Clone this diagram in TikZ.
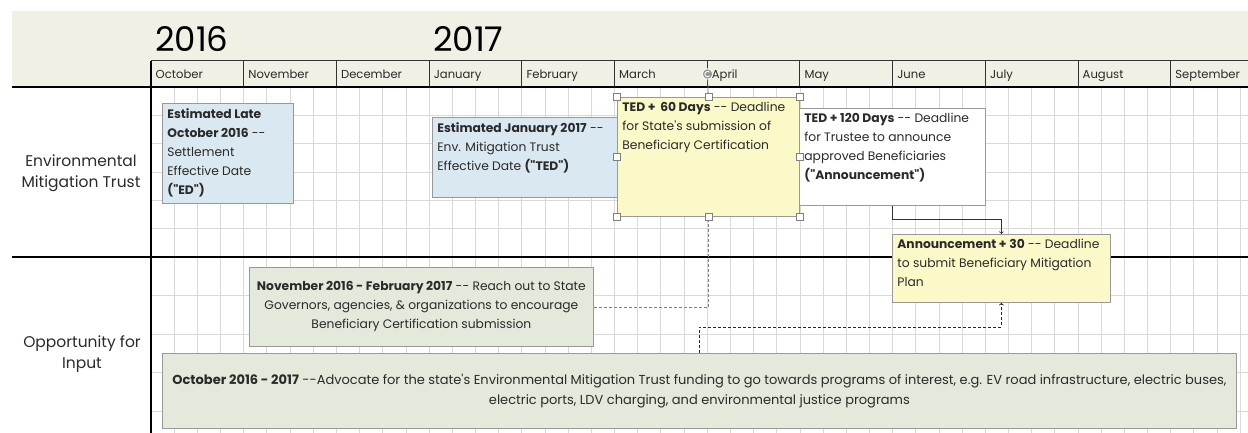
\documentclass[tikz,border=0pt]{standalone}
\usepackage{fontspec}
\setmainfont{Poppins}
\usetikzlibrary{positioning}

\definecolor{headbg}{HTML}{F0F0E5}
\definecolor{gridgray}{HTML}{D9D9D9}
\definecolor{bluefill}{HTML}{DAE8F1}
\definecolor{yellowfill}{HTML}{FCF9C9}
\definecolor{greenfill}{HTML}{E3EADB}
\definecolor{boxedge}{HTML}{999999}
\definecolor{inktext}{HTML}{2A2A2A}

\newcommand{\evtext}[3]{\parbox[t][#2][t]{#1}{\raggedright #3}}
\newcommand{\dq}{\textquotedbl}
\newcommand{\sq}{\textquotesingle}

\tikzset{
  gridline/.style={draw=gridgray, line width=0.8pt},
  heavyline/.style={draw=black, line width=1.6pt},
  monthline/.style={draw=black!80, line width=1pt},
  monthlabel/.style={anchor=base west, inner sep=0pt, text=inktext, font=\fontsize{11.6}{13}\selectfont},
  yearlabel/.style={anchor=base west, inner sep=0pt, font=\fontsize{34}{40}\selectfont},
  rowlabel/.style={align=center, inner sep=0pt, text=inktext, font=\fontsize{15.5}{21}\selectfont},
  evbox/.style={draw=boxedge, line width=0.8pt, inner xsep=5pt, inner ysep=5pt, anchor=north west, text=inktext, font=\fontsize{12.3}{19}\selectfont},
  bluebox/.style={evbox, fill=bluefill},
  yellowbox/.style={evbox, fill=yellowfill},
  whitebox/.style={evbox, fill=white},
  greenbox/.style={evbox, fill=greenfill, align=center},
  handlebox/.style={draw=gray, fill=white, line width=0.6pt, minimum size=7pt, inner sep=0pt},
  flowline/.style={draw=black!80, line width=0.8pt, ->},
  dashline/.style={line width=0.8pt, dash pattern=on 3pt off 2pt, ->}
}

\begin{document}
\begin{tikzpicture}[x=1pt,y=-1pt]
\useasboundingbox (0,0) rectangle (1248,433);

% header band
\fill[headbg] (12,11) rectangle (1248,87);
\node[yearlabel] (y2016) at (155,52) {2016};
\node[yearlabel] (y2017) at (433,52) {2017};

% grid
\foreach \i in {1,...,47}
  \draw[gridline] ({151+\i*23.175},87) -- ({151+\i*23.175},433);
\foreach \y in {115.3,143.7,172,200.3,228.7,295.5,334,372.5,411}
  \draw[gridline] (151,\y) -- (1248,\y);

% months
\draw[monthline] (151,61) -- (1248,61);
\foreach \m [count=\i from 0] in {October,November,December,January,February,March,April,May,June,July,August,September}{
  \draw[monthline] ({151+\i*92.7},61) -- ({151+\i*92.7},87);
  \node[monthlabel] (m\i) at ({155.5+\i*92.7},79) {\m};}

\draw[heavyline] (12,87) -- (1248,87);
\draw[heavyline] (12,257) -- (1248,257);
\draw[heavyline] (151,61) -- (151,433);

% rows
\node[rowlabel] (rowtrust) at (81,173) {Environmental\\Mitigation Trust};
\node[rowlabel] (rowinput) at (82,354) {Opportunity for\\Input};

% events
\node[bluebox] (ed) at (162,103) {\evtext{121pt}{90pt}{\textbf{Estimated Late}\\\textbf{October 2016} -{}-\\Settlement\\Effective Date\\\textbf{(\dq ED\dq)}}};
\node[bluebox] (ted) at (432,117) {\evtext{175pt}{70pt}{\textbf{Estimated January 2017} -{}-\\Env. Mitigation Trust\\Effective Date \textbf{(\dq TED\dq)}}};
\node[yellowbox] (ted60) at (617,97) {\evtext{172pt}{109pt}{\textbf{TED + \,60 Days} -{}- Deadline\\for State\sq s submission of\\Beneficiary Certification}};
\node[whitebox] (ted120) at (799,108) {\evtext{176pt}{87pt}{\textbf{TED + 120 Days} -{}- Deadline\\for Trustee to announce\\approved Beneficiaries\\\textbf{(\dq Announcement\dq)}}};
\node[yellowbox] (ann30) at (892,234) {\evtext{208pt}{58pt}{\textbf{Announcement + 30} -{}- Deadline\\to submit Beneficiary Mitigation\\Plan}};
\node[greenbox, minimum width=344pt, minimum height=79pt] (outreach) at (249,267) {\textbf{November 2016 - February 2017} -{}- Reach out to State\\Governors, agencies, \& organizations to encourage\\Beneficiary Certification submission};
\node[greenbox, minimum width=1074pt, minimum height=75pt, font=\fontsize{13}{20}\selectfont] (advocate) at (162,353) {\textbf{October 2016 - 2017} -{}-Advocate for the state\sq s Environmental Mitigation Trust funding to go towards programs of interest, e.g. EV road infrastructure, electric buses,\\electric ports, LDV charging, and environmental justice programs};

% links
\draw[flowline] (ted120.south) -- ++(0,14) -| (ann30.north);
\draw[dashline, gray] (outreach.east) -| (ted60.south);
\draw[dashline, black!85] (advocate.north) -- ++(0,-26) -| (ann30.south);

% selection handles
\foreach \a [count=\i] in {north west,north,north east,west,east,south west,south,south east}
  \node[handlebox] (h\i) at (ted60.\a) {};
\node[circle, fill=gray!85, draw=white, line width=0.8pt, minimum size=10.5pt, inner sep=0pt] (rot) at (707.5,74) {};
\draw[gray, line width=0.6pt] (rot) -- (h2);
\draw[white, line width=0.9pt] (rot.center) ++(40:2.7) arc (40:320:2.7);
\end{tikzpicture}
\end{document}
